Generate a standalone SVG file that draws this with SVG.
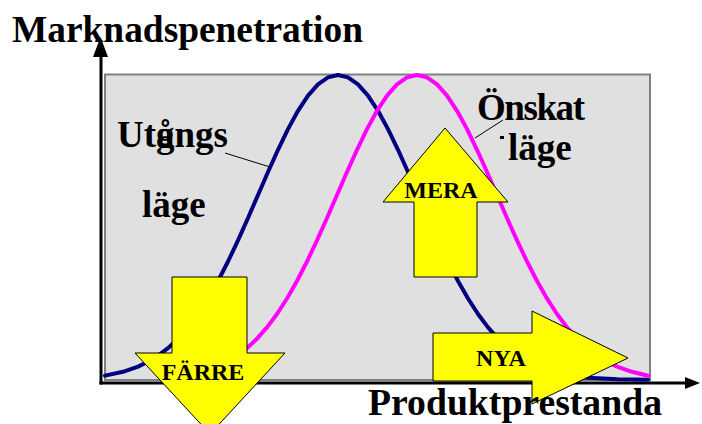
<svg xmlns="http://www.w3.org/2000/svg" width="702" height="424" viewBox="0 0 702 424">
<style>
.t{font-family:"Liberation Serif","Times New Roman",serif;font-weight:bold;fill:#000}
.big{font-size:37px}
.lbl{font-size:24px;text-anchor:middle}
.arrow{fill:#ffff00;stroke:#000;stroke-width:1}
.curve{fill:none;stroke-linejoin:round;stroke-linecap:round}
.lead{stroke:#000;stroke-width:1;fill:none}
</style>
<rect x="0" y="0" width="702" height="424" fill="#fff"/>
<g id="plot-area">
<rect x="105" y="74.5" width="545" height="305.5" fill="#e0e0e0" stroke="#808080" stroke-width="2"/>
</g>
<g id="axes">
<line x1="101" y1="384.5" x2="101" y2="55" stroke="#000" stroke-width="3"/>
<polygon points="93,57 100.5,37 108,57" fill="#000"/>
<line x1="99.5" y1="383" x2="688" y2="383" stroke="#000" stroke-width="3"/>
<polygon points="685,377 700,383 685,389" fill="#000"/>
</g>
<g id="curves">
<polyline id="curve-utgangs" class="curve" stroke="#000080" stroke-width="4" points="105,375.6 123,371.8 138,366.6 148,361.8 158,355.7 168,348.1 178,338.7 188,327.4 198,314 208,298.5 218,281 228,261.5 238,240.4 248,218 258,195 268,172 278,149.8 288,129.1 298,110.8 308,95.7 318,84.4 328,77.4 338,75 348,77.4 358,84.4 368,95.7 378,110.8 388,129.1 398,149.8 408,172 418,195 428,218 438,240.4 448,261.5 458,281 468,298.5 478,314 488,327.4 498,338.7 508,348.1 518,355.7 528,361.8 538,366.6 553,371.8 571,375.6 588,377.7 618,379.3 648,379.8"/>
<polyline id="curve-onskat" class="curve" stroke="#ff00ff" stroke-width="4" points="184,375.6 202,371.8 217,366.6 227,361.8 237,355.7 247,348.1 257,338.7 267,327.4 277,314 287,298.5 297,281 307,261.5 317,240.4 327,218 337,195 347,172 357,149.8 367,129.1 377,110.8 387,95.7 397,84.4 407,77.4 417,75 427,77.4 437,84.4 447,95.7 457,110.8 467,129.1 477,149.8 487,172 497,195 507,218 517,240.4 527,261.5 537,281 547,298.5 557,314 567,327.4 577,338.7 587,348.1 597,355.7 607,361.8 617,366.6 632,371.8 648,375.8"/>
<line class="lead" x1="225" y1="153" x2="270" y2="167"/>
<line class="lead" x1="503" y1="120" x2="475" y2="138"/>
</g>
<g id="node-utgangslage">
<text class="t big" x="117" y="147">Utg<tspan dx="-18.5">å</tspan>ngs</text>
<text class="t big" x="142" y="217">läge</text>
</g>
<g id="node-onskat-lage">
<text class="t big" x="477" y="120" textLength="108" lengthAdjust="spacing">Önskat</text>
<rect x="500" y="136" width="4" height="3" fill="#000"/>
<text class="t big" x="508" y="160">läge</text>
</g>
<g id="node-mera">
<polygon class="arrow" points="445,128 508,202 477,202 477,277 414,277 414,202 383,202"/>
<text class="t lbl" x="441" y="198">MERA</text>
</g>
<g id="node-farre">
<polygon class="arrow" points="172,277 247,277 247,353 285,353 210,434 135,353 172,353"/>
<text class="t lbl" x="203" y="380">FÄRRE</text>
</g>
<g id="node-nya">
<polygon class="arrow" points="433,333 532,333 532,311 628,358 532,404 532,381 433,381"/>
<text class="t lbl" x="501" y="366">NYA</text>
</g>
<g id="axis-labels">
<text class="t big" x="12" y="42" textLength="351" lengthAdjust="spacingAndGlyphs">Marknadspenetration</text>
<text class="t big" x="368" y="415" textLength="294" lengthAdjust="spacingAndGlyphs">Produktprestanda</text>
</g>
</svg>
